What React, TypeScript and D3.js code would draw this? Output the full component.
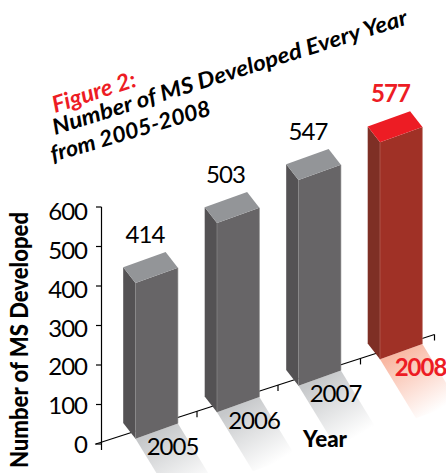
import React from "react";
import * as d3 from "d3";

const years = ["2005", "2006", "2007", "2008"];
const values = [414, 503, 547, 577];
const yTicks = [0, 100, 200, 300, 400, 500, 600];
const titleLines = ["Number of MS Developed Every Year", "from 2005-2008"];
const figureLabel = "Figure 2:";

const FONT = "Lato, 'Open Sans', sans-serif";
const RED = "#ed1c24";

const frontX = d3.scalePoint<string>().domain(years).range([135.5, 380]);
const baseY = d3.scaleLinear().domain([135.5, 380]).range([438.7, 359.3]);
const barH = d3.scaleLinear().domain([0, 600]).range([0, 225.6]);
const axisY = d3.scaleLinear().domain([0, 600]).range([444, 207]);
const tickLabelY = d3.scaleLinear().domain([0, 600]).range([453, 220]);

const BW = 42.4, BR = 15.3, SX = 12.3, SY = 15.8;
const SHX = 36, SHY = 59;

const poly = (pts: number[][]) => (d3.line()(pts as [number, number][]) ?? "") + "Z";

const axisTickXs = [197, 278, 360.5, 434.5];
const axisLineY = d3.scaleLinear().domain([101.5, 434.5]).range([442.2, 334.5]);

export default function App() {
  return (
    <svg
      width={446}
      height={473}
      viewBox="0 0 446 473"
      style={{ position: "absolute", left: 0, top: 0, background: "#fff" }}
      fontFamily={FONT}
    >
      <defs>
        {years.map((y, i) => {
          const x = frontX(y)!, b = baseY(x);
          const gx = x + BW / 2, gy = b - BR / 2;
          return (
            <linearGradient
              key={y}
              id={`sh${i}`}
              gradientUnits="userSpaceOnUse"
              x1={gx}
              y1={gy}
              x2={gx + SHX}
              y2={gy + SHY}
            >
              <stop offset="0" stopColor={i === 3 ? "#f9b8a3" : "#c6c8ca"} />
              <stop offset="1" stopColor="#ffffff" />
            </linearGradient>
          );
        })}
      </defs>

      {years.map((y, i) => {
        const x = frontX(y)!, b = baseY(x);
        return (
          <path
            key={y}
            fill={`url(#sh${i})`}
            d={poly([
              [x, b],
              [x + BW, b - BR],
              [x + BW + SHX, b - BR + SHY],
              [x + SHX, b + SHY],
            ])}
          />
        );
      })}

      {/* axes */}
      <g stroke="#000" strokeWidth={1.2} fill="none">
        <line x1={101.5} x2={101.5} y1={207} y2={450} />
        {yTicks.map((t) => (
          <line key={t} x1={96} x2={101.5} y1={axisY(t)} y2={axisY(t)} />
        ))}
        <line x1={95} y1={axisLineY(95)} x2={434.5} y2={axisLineY(434.5)} />
        {axisTickXs.map((x) => (
          <line key={x} x1={x} x2={x} y1={axisLineY(x)} y2={axisLineY(x) + 6} />
        ))}
      </g>

      {/* bars */}
      {years.map((y, i) => {
        const x = frontX(y)!, b = baseY(x), h = barH(values[i]);
        const hot = i === 3;
        const t = b - h;
        return (
          <g key={y}>
            <path
              fill={hot ? "#7e2f25" : "#545254"}
              d={poly([
                [x, b],
                [x - SX, b - SY],
                [x - SX, t - SY],
                [x, t],
              ])}
            />
            <path
              fill={hot ? "#a03126" : "#676567"}
              d={poly([
                [x, b],
                [x + BW, b - BR],
                [x + BW, t - BR],
                [x, t],
              ])}
            />
            <path
              fill={hot ? RED : "#939598"}
              d={poly([
                [x, t],
                [x + BW, t - BR],
                [x + BW - SX, t - BR - SY],
                [x - SX, t - SY],
              ])}
            />
            <line x1={x} x2={x} y1={t} y2={b} stroke={hot ? "#b5655a" : "#8a898a"} strokeWidth={0.7} />
            <line x1={x + BW} x2={x + BW} y1={t - BR} y2={b - BR} stroke={hot ? "#c07a70" : "#8a898a"} strokeWidth={0.6} />
          </g>
        );
      })}

      {/* y tick labels */}
      {yTicks.map((t) => (
        <text key={t} x={87} y={tickLabelY(t)} textAnchor="end" fontSize={24} fontWeight={400} fill="#000" letterSpacing={-1}>
          {t}
        </text>
      ))}

      {/* value labels */}
      {years.map((y, i) => {
        const x = frontX(y)!, b = baseY(x), h = barH(values[i]);
        return (
          <text
            key={y}
            x={x + 10.5 + (i === 0 ? -1 : i === 1 ? -2 : i === 2 ? -1 : 0)}
            y={b - h - 40.5}
            textAnchor="middle"
            fontSize={24}
            fontWeight={i === 3 ? 700 : 400}
            fill={i === 3 ? RED : "#000"}
            letterSpacing={-1}
          >
            {values[i]}
          </text>
        );
      })}

      {/* year labels */}
      {years.map((y, i) => {
        const x = frontX(y)!, b = baseY(x);
        return (
          <text
            key={y}
            x={x + 37 + (i === 3 ? 3.5 : 0)}
            y={b + 16.5}
            textAnchor="middle"
            fontSize={24}
            fontWeight={i === 3 ? 700 : 400}
            fill={i === 3 ? RED : "#000"}
            letterSpacing={-1}
          >
            {y}
          </text>
        );
      })}

      <text x={325} y={447} textAnchor="middle" fontSize={22} fontWeight={900} fill="#000" textLength={44} lengthAdjust="spacingAndGlyphs">
        Year
      </text>

      <text
        transform="translate(28,468) rotate(-90)"
        fontSize={24}
        fontWeight={900}
        fill="#000"
        textLength={256}
        lengthAdjust="spacingAndGlyphs"
      >
        Number of MS Developed
      </text>

      <g fontStyle="italic" fontWeight={700} fontSize={22}>
        <text transform="translate(55,113) rotate(-18)" fill={RED} textLength={87} lengthAdjust="spacingAndGlyphs" fontSize={23}>
          {figureLabel}
        </text>
        <text transform="translate(55,135) rotate(-17.4)" fill="#000" textLength={371} lengthAdjust="spacingAndGlyphs">
          {titleLines[0]}
        </text>
        <text transform="translate(53,162) rotate(-16.5)" fill="#000" textLength={166} lengthAdjust="spacingAndGlyphs">
          {titleLines[1]}
        </text>
      </g>
    </svg>
  );
}
